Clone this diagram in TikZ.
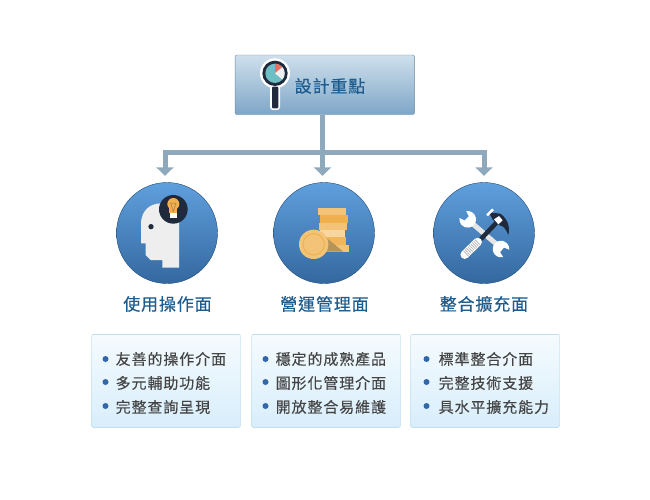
\documentclass[tikz,border=0pt]{standalone}
\usepackage{fontspec}
\setmainfont{Noto Sans CJK TC}
\usepackage{xcolor}
\usepackage{tikz}
\usetikzlibrary{arrows.meta}
\definecolor{linkgray}{HTML}{8FA9BC}
\definecolor{titleblue}{HTML}{1C5C8F}
\definecolor{itemgray}{HTML}{444444}
\definecolor{dotblue}{HTML}{3467A8}
\definecolor{inkdark}{HTML}{1F2A3C}
\definecolor{coinlight}{HTML}{F3C477}
\definecolor{coindeep}{HTML}{F0B050}
\definecolor{cfe}{HTML}{CFE0EC}
\definecolor{bfe}{HTML}{7EA6C8}
\definecolor{lfa}{HTML}{F5FBFE}
\definecolor{lfb}{HTML}{D8EEFB}
\definecolor{ctop}{HTML}{5F9FDD}
\definecolor{cbot}{HTML}{34689F}
\definecolor{rimblue}{HTML}{1C4A78}
\definecolor{topedge}{HTML}{6F8A9F}
\definecolor{listedge}{HTML}{A8D0E4}
\definecolor{lensteal}{HTML}{6DBFC4}
\definecolor{lensred}{HTML}{E8705F}
\newfontfamily\headfont[LetterSpace=5,FakeBold=0.35]{Noto Sans CJK TC}
\newfontfamily\itemfont[LetterSpace=6,FakeBold=0.1]{Noto Sans CJK TC}
\tikzset{
	topbox/.style={draw=topedge, rounded corners=2pt, minimum width=179.5pt, minimum height=59.5pt, inner sep=0pt, top color=cfe, bottom color=bfe},
	listbox/.style={draw=listedge, rounded corners=2pt, minimum width=149pt, minimum height=93pt, inner sep=0pt, top color=lfa, bottom color=lfb},
	roundbox/.style={circle, draw=rimblue, minimum size=101pt, inner sep=0pt, top color=ctop, bottom color=cbot},
	headtext/.style={inner sep=0pt, text=titleblue, font=\fontsize{17}{17}\headfont},
	itemtext/.style={inner sep=0pt, anchor=west, text=itemgray, font=\fontsize{15}{15}\itemfont},
	dotmark/.style={circle, fill=dotblue, minimum size=6pt, inner sep=0pt},
	linkline/.style={draw=linkgray, line width=5pt, -{Triangle[width=17pt,length=8.5pt]}},
}
\begin{document}
\begin{tikzpicture}[x=1pt, y=-1pt]
	\useasboundingbox (0,0) rectangle (650,500);
	% top box
	\node[topbox] (design) at (324.8,84.8) {};
	\node[headtext] (designtext) at (330,86) {設計重點};
	\begin{scope}[shift={(225,45)}, scale=1/3]
		\fill[white] (150,85) circle (45);
		\fill[white, rounded corners=3pt] (135,120) rectangle (165,195);
		\fill[inkdark, rounded corners=1pt] (141,125) rectangle (160,190);
		\fill[inkdark] (150,85) circle (38);
		\fill[lensteal] (150,85) circle (29);
		\begin{scope}[shift={(150,85)}]
			\fill[lensred] (0,0) -- (-90:29) arc (-90:-40:29) -- cycle;
			\fill[gray!12] (0,0) -- (-40:29) arc (-40:40:29) -- cycle;
		\end{scope}
	\end{scope}
	% links
	\coordinate (bar) at (322.5,152.5);
	\coordinate (tipuse) at (165,175.8);
	\coordinate (tiprun) at (322.5,175.8);
	\coordinate (tipfit) at (484,175.8);
	\draw[linkline] (design.south -| bar) -- (bar) -| (tipuse);
	\draw[linkline] (design.south -| bar) -- (tiprun);
	\draw[linkline] (design.south -| bar) -- (bar) -| (tipfit);
	% circles
	\node[roundbox] (use) at (167,233) {};
	\node[roundbox] (run) at (324,233) {};
	\node[roundbox] (fit) at (484,233) {};
	% head
	\begin{scope}[shift={(105,175)}, scale=1/3]
		\fill[gray!13] (222,278) -- (172,278) -- (172,255) -- (137,255) -- (122,240) -- (122,205) -- (108,205) -- (108,140) .. controls (112,105) and (135,85) .. (170,85) -- (222,85) -- cycle;
		\fill[inkdark] (138,155) circle (8);
		\fill[inkdark] (205,103) circle (43);
		\fill[coindeep] (205,87) circle (18);
		\fill[coindeep] (193,98) rectangle (217,113);
		\fill[white] (196,113) rectangle (217,129);
		\draw[coindeep!60!inkdark, line width=.5pt] (197,84) -- (205,110) -- (213,84) -- cycle;
	\end{scope}
	% coins
	\begin{scope}[shift={(265,175)}, scale=1/3]
		\fill[coinlight] (158,99) rectangle (244,121);
		\fill[coindeep] (165,121) rectangle (249,143);
		\fill[coinlight] (161,143) rectangle (246,165);
		\fill[coinlight!70!white] (165,165) rectangle (239,187);
		\fill[coindeep!70!coinlight] (165,187) rectangle (242,209);
		\fill[coinlight] (170,209) rectangle (252,230);
		\fill[black!25!coinlight] (180,185) -- (235,230) -- (180,230) -- cycle;
		\fill[coinlight] (146,208) circle (44);
		\draw[coindeep, line width=1pt] (146,208) circle (32);
	\end{scope}
	% tools
	\begin{scope}[shift={(425,175)}, scale=1/3]
		\draw[gray!20, line width=5pt] (145,148) -- (215,208);
		\begin{scope}[shift={(128,133)}, rotate=135]
			\fill[white] (35:25) arc (35:325:25) -- (4,-9) -- (4,9) -- cycle;
		\end{scope}
		\begin{scope}[shift={(228,222)}, rotate=-40]
			\fill[white] (35:25) arc (35:325:25) -- (4,-9) -- (4,9) -- cycle;
		\end{scope}
		\draw[white, line width=8.5pt, line cap=round] (119,239) -- (158,201);
		\draw[gray!55, line width=7pt, dash pattern=on .8pt off 1.2pt] (122,236) -- (160,199);
		\draw[inkdark, line width=4.5pt] (168,192) -- (222,135);
		\fill[inkdark] (192,112) -- (226,116) .. controls (248,132) and (256,155) .. (250,180) .. controls (242,160) and (234,152) .. (226,152) -- (203,134) -- cycle;
		\fill[white] (207,133) -- (222,123) -- (233,136) -- (220,148) -- cycle;
		\draw[white, line width=2.5pt] (186,121) -- (204,103);
	\end{scope}
	% headings
	\node[headtext] (usehead) at (167.5,304) {使用操作面};
	\node[headtext] (runhead) at (324.5,304) {營運管理面};
	\node[headtext] (fithead) at (484,304) {整合擴充面};
	% lists
	\node[listbox] (uselist) at (166,380.8) {};
	\node[listbox] (runlist) at (326,380.8) {};
	\node[listbox] (fitlist) at (485,380.8) {};
	\node[dotmark] (usedota) at (105.5,359) {};
	\node[dotmark] (usedotb) at (105.5,382) {};
	\node[dotmark] (usedotc) at (105.5,406) {};
	\node[itemtext] (useitema) at (115.5,359) {友善的操作介面};
	\node[itemtext] (useitemb) at (115.5,383) {多元輔助功能};
	\node[itemtext] (useitemc) at (115.5,407) {完整查詢呈現};
	\node[dotmark] (rundota) at (265.5,359) {};
	\node[dotmark] (rundotb) at (265.5,382) {};
	\node[dotmark] (rundotc) at (265.5,406) {};
	\node[itemtext] (runitema) at (275.5,359) {穩定的成熟產品};
	\node[itemtext] (runitemb) at (275.5,383) {圖形化管理介面};
	\node[itemtext] (runitemc) at (275.5,407) {開放整合易維護};
	\node[dotmark] (fitdota) at (426.5,359) {};
	\node[dotmark] (fitdotb) at (426.5,382) {};
	\node[dotmark] (fitdotc) at (426.5,406) {};
	\node[itemtext] (fititema) at (438.5,359) {標準整合介面};
	\node[itemtext] (fititemb) at (438.5,383) {完整技術支援};
	\node[itemtext] (fititemc) at (438.5,407) {具水平擴充能力};
\end{tikzpicture}
\end{document}
